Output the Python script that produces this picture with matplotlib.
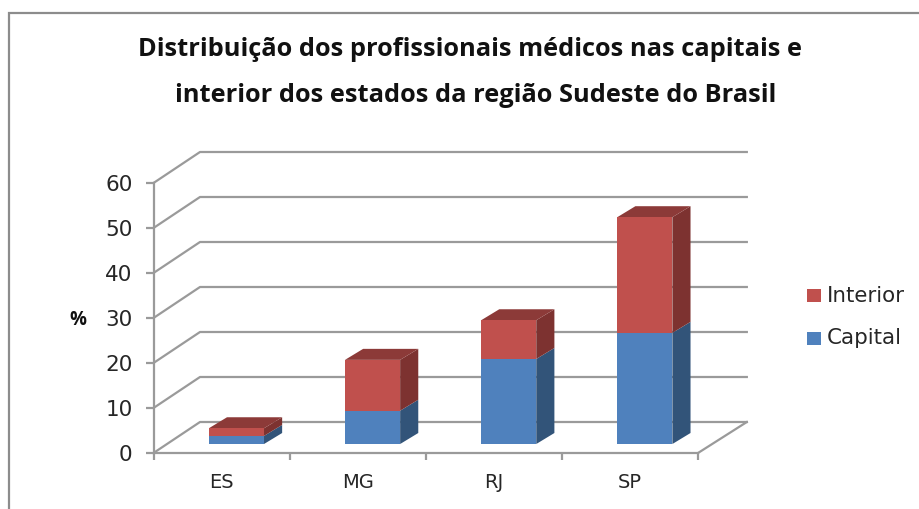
import matplotlib
matplotlib.use("Agg")
import matplotlib.pyplot as plt
from matplotlib.patches import Polygon, Rectangle

states = ["ES", "MG", "RJ", "SP"]
capital = [1.8, 7.4, 18.9, 24.7]
interior = [1.7, 11.3, 8.6, 25.7]
y_ticks = [0, 10, 20, 30, 40, 50, 60]

TITLE_FONT = ["Open Sans", "DejaVu Sans"]
FONT = ["DejaVu Sans"]
W, H = 919, 509
blue = ("#4F81BD", "#325479")
red = ("#C0504D", "#7D3230", "#8C3A38")
GRID = "#9A9A9A"

fig = plt.figure(figsize=(W / 100, H / 100), dpi=100, facecolor="white")
bg = fig.add_axes([0, 0, 1, 1], zorder=0)
bg.set_xlim(0, W); bg.set_ylim(H, 0); bg.axis("off")
bg.plot([9, 9, W], [H, 12.5, 12.5], color="#8C8C8C", lw=1.6, solid_joinstyle="miter")

L, R, B, T = 153.5, 698, 453, 183
ax = fig.add_axes([L / W, 1 - B / H, (R - L) / W, (B - T) / H], zorder=1)
n_cat = len(states)
ax.set_xlim(0, n_cat); ax.set_ylim(0, 60)
ax.patch.set_visible(False)
for s in ("top", "right"):
    ax.spines[s].set_visible(False)
for s in ("left", "bottom"):
    ax.spines[s].set_color(GRID); ax.spines[s].set_linewidth(1.6)

PX = (R - L) / n_cat
DX = 46.5 / PX
DY = 31 / ((B - T) / 60)


def proj(x, y, dx, dy):
    return (x + DX * dx, y + DY * dy)


for v in y_ticks:
    a = proj(0, v, 0, 0); b = proj(0, v, 1, 1); c = proj(n_cat, v, 1.05, 1)
    ax.plot([a[0], b[0], c[0]], [a[1], b[1], c[1]], color=GRID, lw=1.6, clip_on=False, zorder=1)
a, b = proj(n_cat, 0, 0, 0), proj(n_cat, 0, 1.05, 1)
ax.plot([a[0], b[0]], [a[1], b[1]], color=GRID, lw=1.6, clip_on=False, zorder=1)

BW = 0.405
DX0, DX1 = 0.32, 0.71
DY0, DY1 = 0.29, 0.645


def box(xc, y0, y1, front, side, top=None):
    x0, x1 = xc - BW / 2, xc + BW / 2
    ax.add_patch(Polygon([proj(x1, y0, DX0, DY0), proj(x1, y0, DX1, DY1),
                          proj(x1, y1, DX1, DY1), proj(x1, y1, DX0, DY0)],
                         fc=side, ec="none", clip_on=False, zorder=3))
    if top:
        ax.add_patch(Polygon([proj(x0, y1, DX0, DY0), proj(x1, y1, DX0, DY0),
                              proj(x1, y1, DX1, DY1), proj(x0, y1, DX1, DY1)],
                             fc=top, ec="none", clip_on=False, zorder=3))
    ax.add_patch(Polygon([proj(x0, y0, DX0, DY0), proj(x1, y0, DX0, DY0),
                          proj(x1, y1, DX0, DY0), proj(x0, y1, DX0, DY0)],
                         fc=front, ec="none", clip_on=False, zorder=4))


for i, (c, n) in enumerate(zip(capital, interior)):
    xc = i + 0.5
    box(xc, 0, c, blue[0], blue[1])
    box(xc, c, c + n, red[0], red[1], red[2])

ax.set_yticks(y_ticks)
ax.set_yticklabels([str(v) for v in y_ticks], fontsize=15.5, family=FONT, color="#262626")
ax.set_xticks(range(n_cat + 1))
ax.set_xticklabels([""] * (n_cat + 1))
ax.tick_params(axis="y", color=GRID, width=1.6, length=6, pad=9)
ax.tick_params(axis="x", color=GRID, width=1.6, length=5)
for i, s in enumerate(states):
    ax.annotate(s, xy=(i + 0.5, 0), xycoords="data", xytext=(0, -21.6), textcoords="offset points",
                ha="center", va="center", fontsize=14, family=FONT, color="#262626", annotation_clip=False)

bg.text(78, 320, "%", fontsize=13.5, fontweight="bold", family=TITLE_FONT, color="#111111", ha="center", va="center")

bg.text(470, 49, "Distribuição dos profissionais médicos nas capitais e", fontsize=18.3,
        fontweight="bold", family=TITLE_FONT, color="#111111", ha="center", va="center")
bg.text(476, 95, "interior dos estados da região Sudeste do Brasil", fontsize=18.3,
        fontweight="bold", family=TITLE_FONT, color="#111111", ha="center", va="center")

for lab, col, yc in (("Interior", red[0], 295.5), ("Capital", blue[0], 338.5)):
    bg.add_patch(Rectangle((807, yc - 6.5), 14, 13, fc=col, ec="none"))
    bg.text(827, yc, lab, fontsize=15.4, family=FONT, color="#262626", ha="left", va="center")

fig.savefig("out.png", dpi=100)
